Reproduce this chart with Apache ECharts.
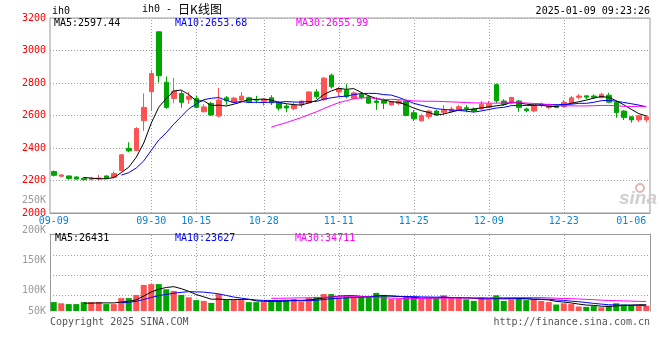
<!DOCTYPE html>
<html><head><meta charset="utf-8">
<script src="https://cdn.jsdelivr.net/npm/echarts/dist/echarts.min.js"></script>
<style>html,body{margin:0;padding:0;background:#fff}#c{width:660px;height:360px}</style>
</head><body><div id="c"></div>
<script>
// ---- data ----
const dates = ['09-09','09-10','09-11','09-12','09-13','09-18','09-19','09-20','09-23','09-24','09-25','09-26','09-27','09-30',
'10-08','10-09','10-10','10-11','10-14','10-15','10-16','10-17','10-18','10-21','10-22','10-23','10-24','10-25','10-28','10-29','10-30','10-31',
'11-01','11-04','11-05','11-06','11-07','11-08','11-11','11-12','11-13','11-14','11-15','11-18','11-19','11-20','11-21','11-22','11-25','11-26','11-27','11-28','11-29',
'12-02','12-03','12-04','12-05','12-06','12-09','12-10','12-11','12-12','12-13','12-16','12-17','12-18','12-19','12-20','12-23','12-24','12-25','12-26','12-27','12-30','12-31',
'01-02','01-03','01-06','01-07','01-08'];
const open  = [2255,2226,2228,2222,2214,2208,2210,2228,2220,2262,2398,2385,2568,2746,3115,2805,2705,2735,2700,2705,2623,2674,2597,2709,2682,2695,2709,2698,2688,2709,2678,2658,2642,2665,2678,2745,2697,2848,2746,2756,2706,2730,2715,2689,2695,2665,2674,2689,2617,2567,2593,2627,2620,2624,2634,2648,2640,2640,2651,2790,2689,2676,2689,2640,2628,2661,2649,2658,2655,2676,2712,2721,2720,2710,2725,2681,2627,2592,2573,2573];
const close = [2232,2234,2212,2209,2205,2213,2215,2212,2243,2358,2382,2520,2650,2858,2845,2650,2750,2681,2718,2650,2653,2603,2695,2690,2707,2719,2685,2694,2700,2678,2645,2646,2664,2688,2745,2716,2830,2777,2766,2716,2739,2710,2676,2680,2676,2684,2688,2600,2580,2598,2627,2608,2633,2640,2654,2641,2628,2670,2670,2690,2668,2711,2650,2630,2664,2669,2664,2650,2681,2709,2720,2713,2712,2730,2682,2618,2587,2573,2598,2592];
const low   = [2225,2220,2205,2205,2198,2200,2200,2208,2218,2255,2374,2380,2505,2628,2803,2642,2675,2648,2672,2645,2620,2598,2587,2665,2676,2690,2676,2675,2660,2664,2630,2620,2632,2648,2672,2701,2690,2766,2716,2705,2700,2700,2672,2635,2640,2660,2665,2595,2566,2563,2578,2600,2603,2618,2628,2620,2620,2633,2645,2675,2660,2668,2623,2620,2620,2650,2640,2645,2648,2668,2701,2700,2703,2705,2675,2586,2572,2556,2560,2558];
const high  = [2262,2238,2230,2225,2220,2222,2235,2230,2255,2362,2435,2528,2735,2880,3118,2840,2832,2752,2745,2720,2670,2685,2770,2720,2715,2745,2715,2721,2706,2725,2689,2670,2680,2695,2750,2762,2838,2858,2776,2793,2748,2745,2725,2712,2705,2688,2695,2695,2633,2610,2633,2635,2664,2655,2665,2664,2650,2690,2690,2797,2700,2715,2695,2648,2670,2680,2670,2670,2695,2721,2731,2722,2730,2740,2740,2690,2633,2594,2605,2602];
const volume = [33000,30000,28000,28000,33000,33000,33000,28000,28000,43000,43000,51000,76000,78000,78000,65000,61000,51000,45000,38000,36000,31000,53000,38000,38000,38000,33000,33000,33000,38000,36000,38000,41000,34000,43000,46000,53000,53000,45000,47000,46000,46000,46000,56000,51000,41000,41000,46000,46000,41000,43000,43000,50000,43000,43000,40000,36000,45000,38000,50000,36000,40000,45000,38000,40000,36000,33000,27000,30000,28000,22000,21000,23000,20000,24000,30000,27000,26000,25000,24000];
const ma5 = [null,null,null,null,2218.4,2214.6,2210.8,2210.8,2217.6,2248.2,2282,2343,2430.6,2553.6,2651,2704.6,2750.6,2756.8,2728.8,2689.8,2690.4,2661,2663.8,2658.2,2669.6,2682.8,2699.2,2699,2701,2695.2,2680.4,2672.6,2666.6,2664.2,2677.6,2691.8,2728.6,2751.2,2766.8,2761,2765.6,2741.6,2721.4,2704.2,2696.2,2685.2,2680.8,2665.6,2645.6,2630,2618.6,2602.6,2609.2,2621.2,2632.4,2635.2,2639.2,2646.6,2652.6,2659.8,2665.2,2681.8,2677.8,2669.8,2664.6,2664.8,2655.4,2655.4,2665.6,2674.6,2684.8,2694.6,2707,2716.8,2711.4,2691,2665.8,2638,2611.6,2597.4];
const ma10 = [null,null,null,null,null,null,null,null,null,2233.3,2248.3,2276.9,2320.7,2385.6,2449.6,2493.3,2546.8,2593.7,2641.2,2670.4,2697.5,2705.8,2710.3,2693.5,2679.7,2686.6,2680.1,2681.4,2679.6,2682.4,2681.6,2685.9,2682.8,2682.6,2686.4,2686.1,2700.6,2708.9,2715.5,2719.3,2728.7,2735.1,2736.3,2735.5,2728.6,2725.4,2711.2,2693.5,2674.9,2663.1,2651.9,2641.7,2637.4,2633.4,2631.2,2626.9,2620.9,2627.9,2636.9,2646.1,2650.2,2660.5,2662.2,2661.2,2662.2,2665,2668.6,2666.6,2667.7,2669.6,2674.8,2675,2681.2,2691.2,2693,2687.9,2680.2,2672.5,2664.2,2653.7];
const ma30 = [null,null,null,null,null,null,null,null,null,null,null,null,null,null,null,null,null,null,null,null,null,null,null,null,null,null,null,null,null,2528.7,2542.5,2556.2,2571.3,2587.2,2605.2,2622,2642.5,2661.3,2678.8,2690.7,2702.6,2708.9,2709.8,2703.9,2698.2,2699.4,2697.3,2694.6,2690,2688.3,2687.4,2687.6,2685.5,2683.8,2682.1,2679.5,2677.6,2676.8,2675.8,2676.2,2676.9,2679.1,2678.6,2676.7,2674,2672.4,2666.9,2662.7,2659.8,2659.6,2659,2659.1,2660.3,2661.9,2662.1,2659.9,2656.6,2655.7,2656.3,2656];
const vma5 = [null,null,null,null,30400,30400,31000,31000,31000,33000,35000,38600,48200,58200,65200,69600,71600,66600,60000,52000,46200,40200,40600,39200,39200,39600,40000,36000,35000,35000,34600,35600,37200,37400,38400,40400,43400,45800,48000,48800,48800,47400,46000,48200,49000,48000,47000,47000,45000,43000,43400,43800,44600,44000,44400,43800,42400,41400,40400,41800,41000,41800,41800,41800,39800,39800,38400,34800,33200,30800,28000,25600,24800,22800,22000,23600,24800,25400,26400,26400];
const vma10 = [null,null,null,null,null,null,null,null,null,31700,32700,34800,39600,44600,49100,52300,55100,57400,59100,58600,57900,55900,53600,49600,45600,42900,40100,38300,37100,37100,37100,37800,36600,36200,36700,37500,39500,41500,42700,43600,44600,45400,45900,48100,48900,48400,47200,46500,46600,46000,45700,45400,45800,44500,43700,43600,43100,43000,42200,43100,42400,42100,41600,41100,40800,40400,40100,38300,37500,35300,33900,32000,29800,28000,26400,25800,25200,25100,25000,23600];
const vma30 = [null,null,null,null,null,null,null,null,null,null,null,null,null,null,null,null,null,null,null,null,null,null,null,null,null,null,null,null,null,42500,42600,42800,43300,43500,43800,44200,44900,45700,46300,46400,46500,46400,45400,44600,43700,42900,42300,42100,42100,42200,42500,42900,42800,42900,43100,43200,43300,43700,43800,44200,44200,44300,44400,44600,44500,44100,43500,42600,42100,41500,40700,39800,39100,37900,37000,36600,36100,35500,34800,34700];
const xLabels = ['09-09','09-30','10-15','10-28','11-11','11-25','12-09','12-23','01-06'];
const gridDates = ['09-30','10-15','10-28','11-11','11-25','12-09','12-23'];
const volGridValues = [50000,100000,150000];
const volLabelValues = [50000,100000,150000,200000,250000];
const priceMA = ['MA5:2597.44','MA10:2653.68','MA30:2655.99'];
const volMA = ['MA5:26431','MA10:23627','MA30:34711'];
const titleText = 'ih0 - ';
const titleCn = '日K线图';
const stamp = '2025-01-09 09:23:26';

// ---- styling ----
const MONO = "'DejaVu Sans Mono','Liberation Mono',monospace";
const RED = '#ff5252', GREEN = '#00a600';
const GRAY = '#9a9a9a';
const dotted = {type:[1,2], color:'#a0a0a0', width:1};
const up = i => close[i] >= open[i];
const ohlc = dates.map((d,i) => [open[i], close[i], low[i], high[i]]);
const volData = volume.map((v,i) => ({value: v, itemStyle: {color: up(i) ? RED : GREEN}}));
const kfmt = v => (v/1000) + 'K';

const chart = echarts.init(document.getElementById('c'), null, {renderer:'canvas'});
const lineS = (name, data, color, xi, yi) => ({
  name, type:'line', data, xAxisIndex:xi, yAxisIndex:yi, symbol:'none', showSymbol:false,
  lineStyle:{color, width:1}, itemStyle:{color}, z:4, silent:true, connectNulls:false
});
const vLines = gridDates.map(d => ({xAxis: d}));

chart.setOption({
  animation:false,
  backgroundColor:'#fff',
  grid:[
    {left:50, right:10, top:18, height:195, show:true, borderColor:GRAY, borderWidth:1, outerBoundsMode:'none'},
    {left:50, right:10, top:234, height:77, show:false, outerBoundsMode:'none'},
    {left:50, right:10, top:200.7, height:120, show:false, outerBoundsMode:'none'}
  ],
  xAxis:[
    {gridIndex:0, type:'category', data:dates, boundaryGap:true,
     axisLine:{show:true, lineStyle:{color:GRAY}}, axisTick:{show:false}, splitLine:{show:false},
     axisLabel:{interval:(i,v)=>xLabels.includes(v), color:'#0a84d6', fontFamily:MONO, fontSize:10, margin:3, hideOverlap:false}},
    {gridIndex:1, type:'category', data:dates, boundaryGap:true, position:'top',
     axisLine:{show:true, lineStyle:{color:GRAY}}, axisTick:{show:false}, axisLabel:{show:false}, splitLine:{show:false}},
    {gridIndex:2, type:'category', data:dates, show:false}
  ],
  yAxis:[
    {gridIndex:0, type:'value', min:2000, max:3200, interval:200, scale:false,
     axisLine:{show:false}, axisTick:{show:false},
     axisLabel:{color:'#ff0000', fontFamily:MONO, fontSize:10, margin:4, formatter: v => String(v)},
     splitLine:{show:true, lineStyle:dotted}},
    {gridIndex:1, type:'value', min:10750, max:203250, position:'left',
     axisLine:{show:true, lineStyle:{color:GRAY}}, axisTick:{show:false}, axisLabel:{show:false}, splitLine:{show:false}},
    {gridIndex:1, type:'value', min:10750, max:203250, position:'right',
     axisLine:{show:true, lineStyle:{color:GRAY}}, axisTick:{show:false}, axisLabel:{show:false}, splitLine:{show:false}},
    {gridIndex:2, type:'value', min:volLabelValues[0], max:volLabelValues[volLabelValues.length-1], interval:50000,
     axisLine:{show:false}, axisTick:{show:false}, splitLine:{show:false},
     axisLabel:{color:GRAY, fontFamily:MONO, fontSize:10, margin:4,
       formatter: v => v === volLabelValues[0] ? '{lo|' + kfmt(v) + '}' : kfmt(v),
       rich:{lo:{color:GRAY, fontFamily:MONO, fontSize:10, padding:[0,0,19,0]}}}}
  ],
  series:[
    {name:'K', type:'candlestick', xAxisIndex:0, yAxisIndex:0, data:ohlc, barWidth:5, silent:true,
     itemStyle:{color:RED, color0:GREEN, borderColor:RED, borderColor0:GREEN, borderWidth:1},
     markLine:{silent:true, symbol:['none','none'], z:1, label:{show:false}, lineStyle:dotted, animation:false, data:vLines}},
    lineS('MA5', ma5, '#000000', 0, 0),
    lineS('MA10', ma10, '#0000ff', 0, 0),
    lineS('MA30', ma30, '#ff00ff', 0, 0),
    {name:'VOL', type:'bar', xAxisIndex:1, yAxisIndex:1, data:volData, barWidth:6, silent:true,
     markLine:{silent:true, symbol:['none','none'], z:1, label:{show:false}, lineStyle:dotted, animation:false,
       data: vLines.concat(volGridValues.map(v => ({yAxis: v})))}},
    lineS('VMA5', vma5, '#000000', 1, 1),
    lineS('VMA10', vma10, '#0000ff', 1, 1),
    lineS('VMA30', vma30, '#ff00ff', 1, 1)
  ],
  graphic:[
    {type:'text', left:52, top:6, z:10, style:{text:'ih0', font:'10px ' + MONO, fill:'#000'}},
    {type:'text', left:142, top:3, z:10, style:{text:'{a|' + titleText + '}{b|' + titleCn + '}',
      rich:{a:{fontFamily:MONO, fontSize:10, fill:'#000'}, b:{fontFamily:"'Noto Sans CJK SC'", fontSize:12, fill:'#000'}}}},
    {type:'text', right:10, top:6, z:10, style:{text:stamp, font:'10px ' + MONO, fill:'#000'}},
    {type:'text', left:54, top:18.5, z:10, style:{text:priceMA[0], font:'10px ' + MONO, fill:'#000000'}},
    {type:'text', left:175, top:18.5, z:10, style:{text:priceMA[1], font:'10px ' + MONO, fill:'#0000ff'}},
    {type:'text', left:296, top:18.5, z:10, style:{text:priceMA[2], font:'10px ' + MONO, fill:'#ff00ff'}},
    {type:'text', left:55, top:233, z:10, style:{text:volMA[0], font:'10px ' + MONO, fill:'#000000'}},
    {type:'text', left:175, top:233, z:10, style:{text:volMA[1], font:'10px ' + MONO, fill:'#0000ff'}},
    {type:'text', left:295, top:233, z:10, style:{text:volMA[2], font:'10px ' + MONO, fill:'#ff00ff'}},
    {type:'text', left:50, top:317, z:10, style:{text:'Copyright 2025 SINA.COM', font:'10px ' + MONO, fill:'#555'}},
    {type:'text', right:10, top:317, z:10, style:{text:'http://finance.sina.com.cn', font:'10px ' + MONO, fill:'#555'}},
    {type:'text', left:619, top:189, z:0, style:{text:'sina', font:'italic bold 19px Arial, sans-serif', fill:'#cfcfcf'}},
    {type:'circle', shape:{cx:640, cy:188, r:4}, z:0, style:{fill:'none', stroke:'#e6b4b4', lineWidth:2}}
  ]
});
</script>
</body></html>
